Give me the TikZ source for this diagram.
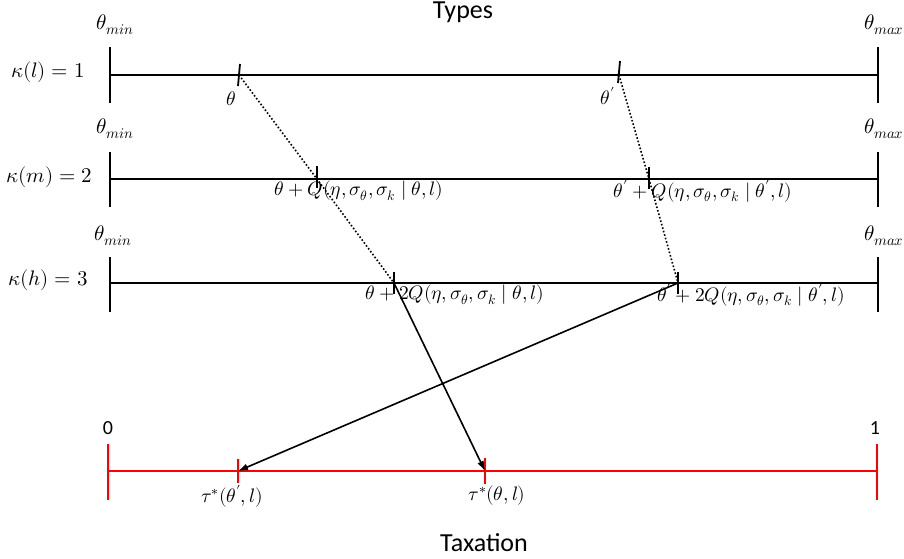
\documentclass[tikz,border=0pt]{standalone}
\usepackage{fontspec}
\usepackage{unicode-math}
\setmathfont{Latin Modern Math}
\newfontfamily\labelfont{Carlito}
\usetikzlibrary{arrows.meta,positioning}
\tikzset{
  axisline/.style={
    line width=2pt,
    draw=black
  },
  taxline/.style={
    axisline,
    draw=red
  },
  endtick/.style={
    line width=2.2pt
  },
  marktick/.style={
    line width=1.8pt
  },
  shiftline/.style={
    dotted,
    line width=1.6pt
  },
  arrow/.style={
    -{Latex[length=10pt,width=7pt]},
    line width=1.6pt,
    draw=black
  },
  mathlabel/.style={
    inner sep=1pt,
    font=\fontsize{19.5}{23}\selectfont
  },
  sidelabel/.style={
    mathlabel,
    font=\fontsize{21}{24}\selectfont
  },
  textlabel/.style={
    inner sep=1pt,
    font=\labelfont\fontsize{26}{30}\selectfont
  },
  numlabel/.style={
    inner sep=1pt,
    font=\labelfont\fontsize{20}{24}\selectfont
  }
}

\begin{document}
\begin{tikzpicture}[x=1pt,y=-1pt]
  \useasboundingbox (0,0) rectangle (904,558);

  % axis ends
  \coordinate (l1a) at (110,75);  \coordinate (l1b) at (878,75);
  \coordinate (l2a) at (110,179); \coordinate (l2b) at (878,179);
  \coordinate (l3a) at (110,283); \coordinate (l3b) at (878,283);
  \coordinate (txa) at (108,471); \coordinate (txb) at (877,471);

  % marked points
  \coordinate (p1) at (239,75);  \coordinate (q1) at (619,75);
  \coordinate (p2) at (317,179); \coordinate (q2) at (649,179);
  \coordinate (p3) at (394,283); \coordinate (q3) at (678,283);
  \coordinate (tq) at (238,471); \coordinate (tp) at (485,471);

  \node[textlabel] (types) at (463,12) {Types};
  \node[textlabel] (taxation) at (484,543) {Taxation};

  \node[sidelabel] (k1) at (48,72)  {$\kappa(l) = 1$};
  \node[sidelabel] (k2) at (49,177) {$\kappa(m) = 2$};
  \node[sidelabel] (k3) at (48,280) {$\kappa(h) = 3$};

  \node[sidelabel] (min1) at (115,25)  {$\theta_{min}$};
  \node[sidelabel] (max1) at (884,25)  {$\theta_{max}$};
  \node[sidelabel] (min2) at (115,129) {$\theta_{min}$};
  \node[sidelabel] (max2) at (884,129) {$\theta_{max}$};
  \node[sidelabel] (min3) at (113,236) {$\theta_{min}$};
  \node[sidelabel] (max3) at (884,236) {$\theta_{max}$};

  \node[numlabel] (zero) at (108,428) {0};
  \node[numlabel] (one) at (875,428) {1};

  \node[mathlabel] (lp1) at (231,99)  {$\theta$};
  \node[mathlabel] (lq1) at (608,96)  {$\theta'$};
  \node[mathlabel] (lp2) at (359,191) {$\theta + Q(\eta, \sigma_\theta, \sigma_k \mid \theta, l)$};
  \node[mathlabel] (lq2) at (703,191) {$\theta' + Q(\eta, \sigma_\theta, \sigma_k \mid \theta', l)$};
  \node[mathlabel] (lp3) at (455,295) {$\theta + 2Q(\eta, \sigma_\theta, \sigma_k \mid \theta, l)$};
  \node[mathlabel] (lq3) at (751,295) {$\theta' + 2Q(\eta, \sigma_\theta, \sigma_k \mid \theta', l)$};
  \node[mathlabel] (ltq) at (232,496) {$\tau^*(\theta', l)$};
  \node[mathlabel] (ltp) at (497,496) {$\tau^*(\theta, l)$};

  % type lines
  \draw[axisline] (l1a) -- (l1b);
  \draw[axisline] (l2a) -- (l2b);
  \draw[axisline] (l3a) -- (l3b);
  \draw[endtick] (l1a) ++(0,-28) -- ++(0,56);
  \draw[endtick] (l1b) ++(0,-28) -- ++(0,56);
  \draw[endtick] (l2a) ++(0,-27) -- ++(0,55);
  \draw[endtick] (l2b) ++(0,-27) -- ++(0,55);
  \draw[endtick] (l3a) ++(0,-26) -- ++(0,55);
  \draw[endtick] (l3b) ++(0,-26) -- ++(0,55);

  % taxation line
  \draw[taxline] (txa) -- (txb);
  \draw[endtick, red] (txa) ++(0,-27) -- ++(0,56);
  \draw[endtick, red] (txb) ++(0,-27) -- ++(0,56);

  \draw[marktick] (p1) ++(1,-11) -- ++(-2,22);
  \draw[marktick] (q1) ++(1,-14) -- ++(-2,22);
  \draw[marktick] (p2) ++(0,-13) -- ++(0,22);
  \draw[marktick] (q2) ++(0,-12) -- ++(0,22);
  \draw[marktick] (p3) ++(0,-11) -- ++(0,22);
  \draw[marktick] (q3) ++(0,-11) -- ++(0,22);
  \draw[marktick, red] (tq) ++(0,-12) -- ++(0,24);
  \draw[marktick, red] (tp) ++(0,-13) -- ++(0,26);

  % shifts
  \draw[shiftline] (p1) -- (p2) -- (p3);
  \draw[shiftline] (q1) -- (q2) -- (q3);

  % mapping to taxes
  \draw[arrow] (p3) -- (tp);
  \draw[arrow] (q3) -- (tq);
\end{tikzpicture}
\end{document}
